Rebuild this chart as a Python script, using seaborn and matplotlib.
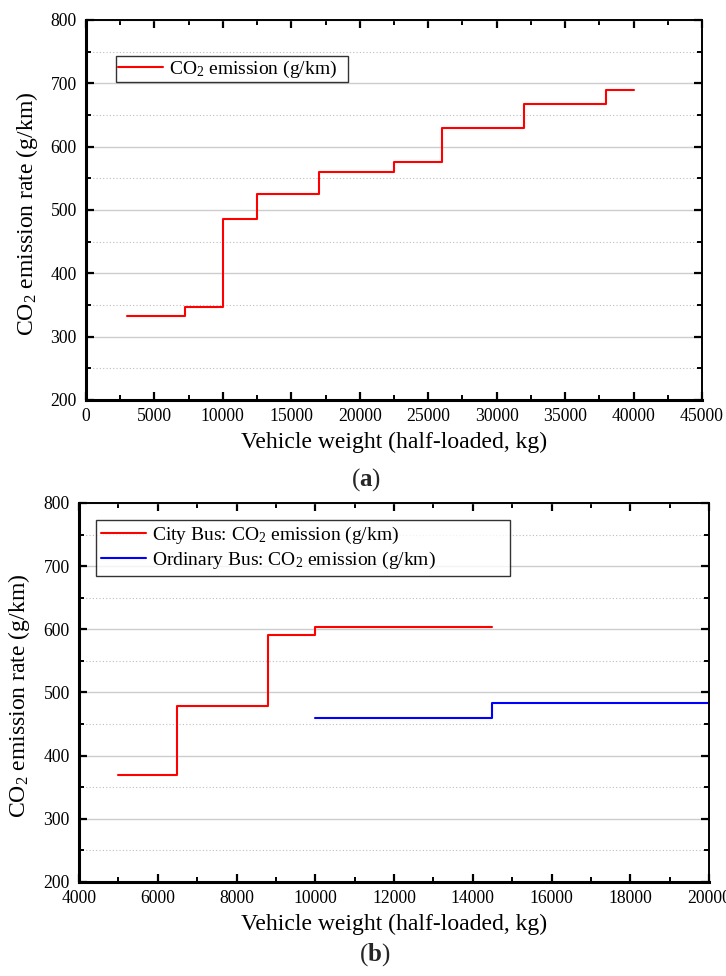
import numpy as np
import pandas as pd
import matplotlib
matplotlib.use("Agg")
import matplotlib.pyplot as plt
from matplotlib.ticker import MultipleLocator
import seaborn as sns

# Panel (a): truck CO2 emission rate by half-loaded vehicle weight (step breakpoints)
truck_weight = [3000, 7200, 10000, 12500, 17000, 22500, 26000, 32000, 38000, 39000, 40000]
truck_co2 = [333, 347, 486, 526, 560, 576, 630, 668, 690, 689, 689]

# Panel (b): buses
city_weight = [5000, 6500, 8800, 10000, 14500]
city_co2 = [370, 479, 591, 603, 603]
ordinary_weight = [10000, 14500, 20000]
ordinary_co2 = [459, 483, 483]

sns.set_theme(style="white")
plt.rcParams["font.family"] = ["Liberation Serif", "DejaVu Serif"]
plt.rcParams["mathtext.fontset"] = "custom"
plt.rcParams["mathtext.rm"] = "Liberation Serif"
plt.rcParams["mathtext.bf"] = "Liberation Serif:bold"
plt.rcParams["mathtext.default"] = "regular"

W, H = 726, 976
fig = plt.figure(figsize=(W / 100, H / 100), dpi=100)
fig.patch.set_facecolor("white")


def px_axes(left, right, top, bottom):
    return fig.add_axes([left / W, 1 - bottom / H, (right - left) / W, (bottom - top) / H])


ax_a = px_axes(86, 702, 20, 400)
ax_b = px_axes(79, 709, 503, 882)

TICK_FS = 12.7
LABEL_FS = 17
LEGEND_FS = 14


def style_axes(ax, xmax, xmajor, xmin=0):
    ax.set_facecolor("white")
    ax.set_xlim(xmin, xmax)
    ax.set_ylim(200, 800)
    ax.xaxis.set_major_locator(MultipleLocator(xmajor))
    ax.xaxis.set_minor_locator(MultipleLocator(xmajor / 2))
    ax.yaxis.set_major_locator(MultipleLocator(100))
    ax.yaxis.set_minor_locator(MultipleLocator(50))
    ax.grid(False)
    ax.yaxis.grid(True, which="major", color="#cdcdcd", lw=1.0, ls="-")
    ax.yaxis.grid(True, which="minor", color="#bdbdbd", lw=0.8, ls=(0, (1, 2)))
    ax.set_axisbelow(True)
    for side in ["left", "bottom"]:
        ax.spines[side].set_linewidth(2.2)
        ax.spines[side].set_color("black")
    for side in ["top", "right"]:
        ax.spines[side].set_linewidth(1.4)
        ax.spines[side].set_color("black")
        ax.spines[side].set_visible(True)
    ax.tick_params(which="both", direction="in", top=True, right=True,
                   bottom=True, left=True, color="black")
    ax.tick_params(which="major", length=6, width=1.6)
    ax.tick_params(which="minor", length=3.5, width=1.4)
    ax.tick_params(axis="x", which="major", labelsize=TICK_FS, pad=5.5)
    ax.tick_params(axis="y", which="major", labelsize=TICK_FS, pad=6.5)
    for lbl in ax.get_xticklabels() + ax.get_yticklabels():
        lbl.set_color("black")
    ax.set_xlabel("Vehicle weight (half-loaded, kg)", fontsize=LABEL_FS, color="black", labelpad=5)
    ax.set_ylabel("CO$_2$ emission rate (g/km)", fontsize=LABEL_FS, color="black")
    ax.yaxis.set_label_coords(-0.075, 0.49)


# (a)
sns.lineplot(x=truck_weight, y=truck_co2, ax=ax_a, color="#ff0000", lw=1.5,
             drawstyle="steps-post", estimator=None, sort=False,
             label="CO$_2$ emission (g/km)")
style_axes(ax_a, 45000, 5000)
leg_a = ax_a.legend(loc="upper left", bbox_to_anchor=(0.0487, 0.905, 0.377, 0.0),
                    mode="expand", borderaxespad=0, fontsize=LEGEND_FS,
                    frameon=True, fancybox=False, edgecolor="black",
                    borderpad=0.12, handlelength=2.3, handletextpad=0.3)
leg_a.get_frame().set_linewidth(1.0)

# (b)
sns.lineplot(x=city_weight, y=city_co2, ax=ax_b, color="#ff0000", lw=1.5,
             drawstyle="steps-post", estimator=None, sort=False,
             label="City Bus: CO$_2$ emission (g/km)")
sns.lineplot(x=ordinary_weight, y=ordinary_co2, ax=ax_b, color="#0000ff", lw=1.5,
             drawstyle="steps-post", estimator=None, sort=False,
             label="Ordinary Bus: CO$_2$ emission (g/km)")
style_axes(ax_b, 20000, 2000, xmin=4000)
leg_b = ax_b.legend(loc="upper left", bbox_to_anchor=(0.027, 0.955, 0.657, 0.0),
                    mode="expand", borderaxespad=0, fontsize=LEGEND_FS,
                    frameon=True, fancybox=False, edgecolor="black",
                    borderpad=0.25, labelspacing=0.2, handlelength=2.3,
                    handletextpad=0.35)
leg_b.get_frame().set_linewidth(1.0)

for leg in (leg_a, leg_b):
    for t in leg.get_texts():
        t.set_color("black")

# Panel captions
fig.text(366 / W, 1 - 480 / H, "($\\mathbf{a}$)", ha="center", va="center", fontsize=18)
fig.text(375 / W, 1 - 955 / H, "($\\mathbf{b}$)", ha="center", va="center", fontsize=18)

fig.savefig("out.png", dpi=100, facecolor="white")
